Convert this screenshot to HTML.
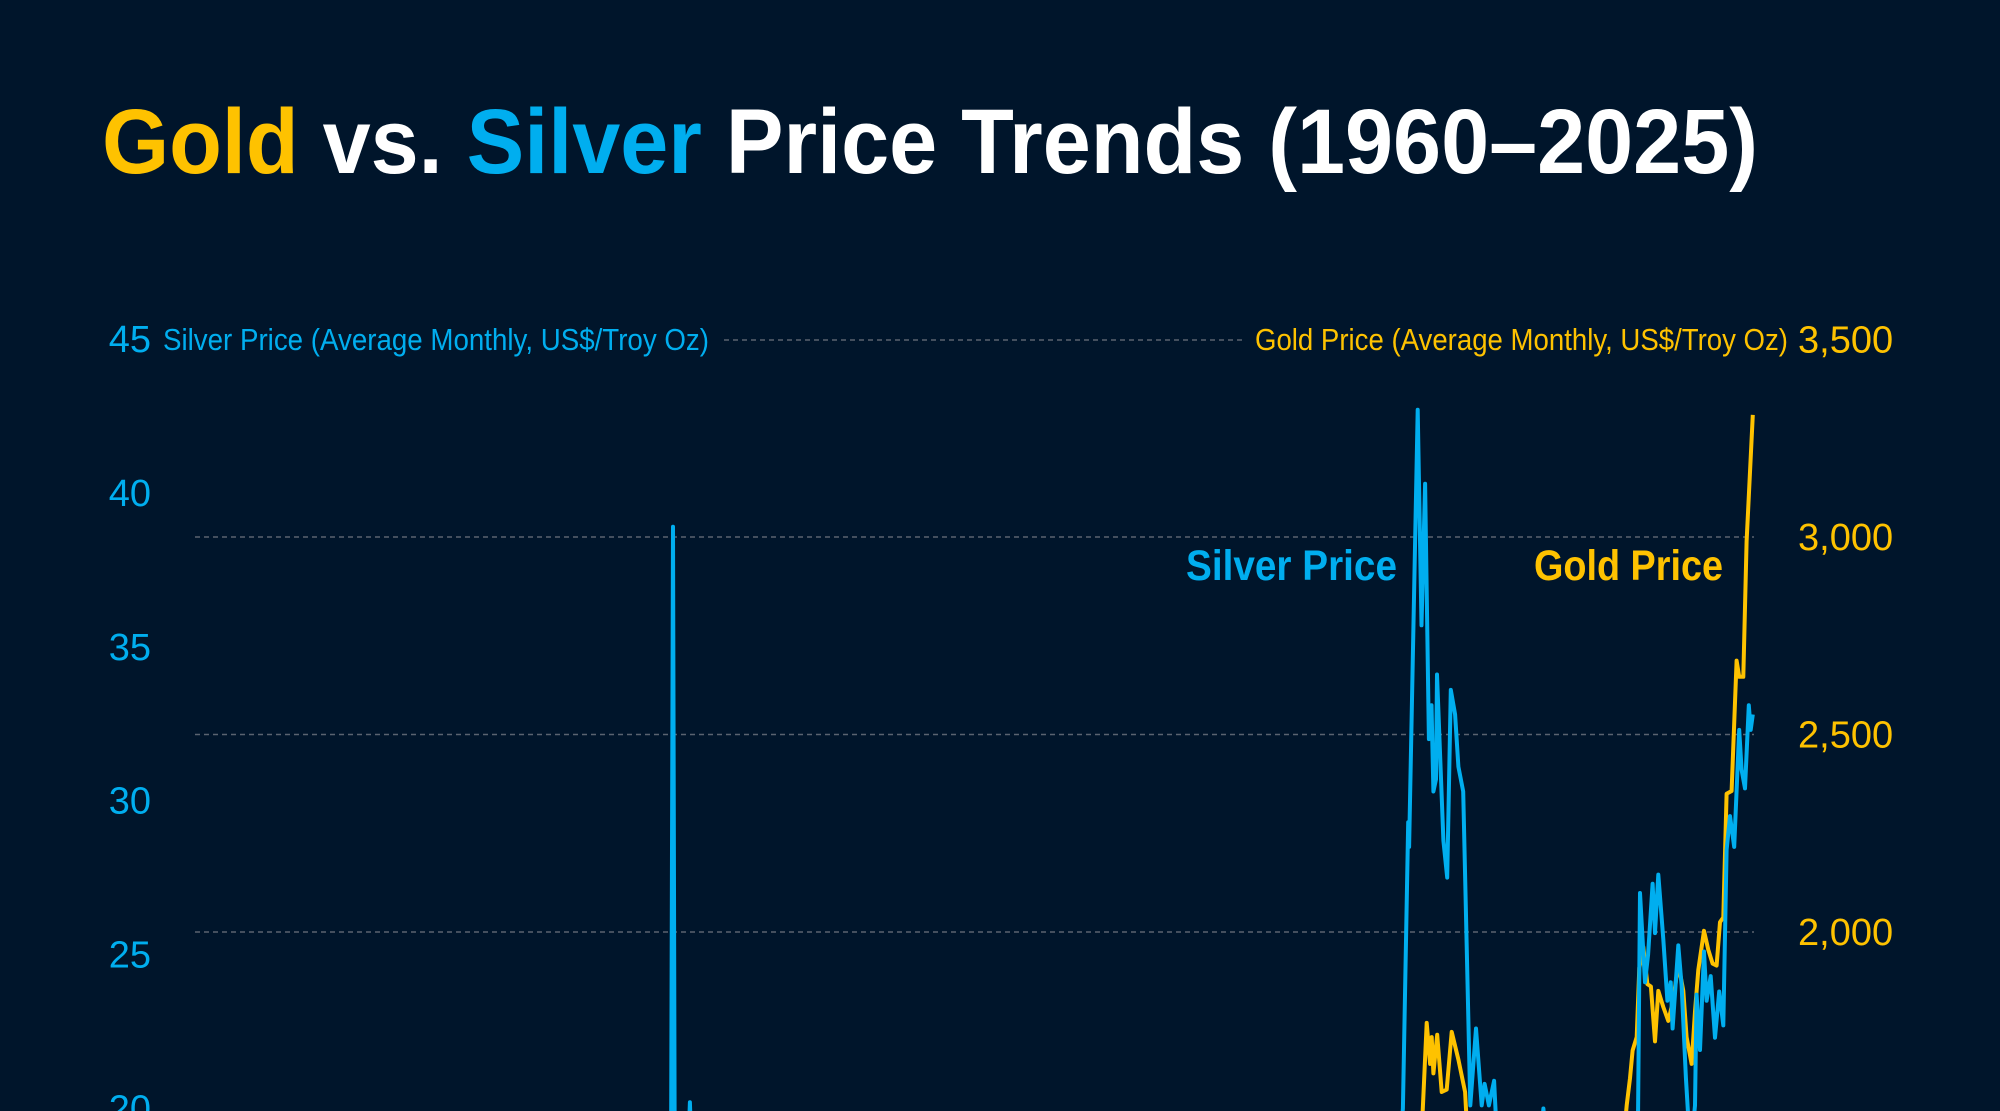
<!DOCTYPE html>
<html><head><meta charset="utf-8">
<style>
html,body{margin:0;padding:0;background:#00152b;width:2000px;height:1111px;overflow:hidden;}
svg{display:block;}
text{font-family:"Liberation Sans",sans-serif;}
</style></head>
<body>
<svg id="chart" width="2000" height="1111" viewBox="0 0 2000 1111" xmlns="http://www.w3.org/2000/svg" overflow="hidden">
<defs><clipPath id="frameClip"><rect x="0" y="0" width="2000" height="1111"/></clipPath></defs>
<rect x="0" y="0" width="2000" height="1111" fill="#00152b"/>
<text x="102" y="173" font-size="92" font-weight="bold" textLength="1656" lengthAdjust="spacingAndGlyphs"><tspan fill="#fec200">Gold</tspan><tspan fill="#ffffff"> vs. </tspan><tspan fill="#00aeef">Silver</tspan><tspan fill="#ffffff"> Price Trends (1960–2025)</tspan></text>
<text x="163" y="350" font-size="31" fill="#00aeef" textLength="546" lengthAdjust="spacingAndGlyphs">Silver Price (Average Monthly, US$/Troy Oz)</text>
<text x="1255" y="350" font-size="31" fill="#fec200" textLength="533" lengthAdjust="spacingAndGlyphs">Gold Price (Average Monthly, US$/Troy Oz)</text>
<line x1="724" y1="340" x2="1243" y2="340" stroke="#5a6370" stroke-width="1.5" stroke-dasharray="5,4"/>
<g id="grid"></g>
<g id="ticks" clip-path="url(#frameClip)"></g>
<g id="series" clip-path="url(#frameClip)"></g>
<text x="1186" y="580" font-size="43" font-weight="bold" fill="#00aeef" textLength="211" lengthAdjust="spacingAndGlyphs">Silver Price</text>
<text x="1534" y="580" font-size="43" font-weight="bold" fill="#fec200" textLength="189" lengthAdjust="spacingAndGlyphs">Gold Price</text>
</svg>
<script>
const silverTicks=[45,40,35,30,25,20];
const goldTicks=[3500,3000,2500,2000];
const goldTickLabels=["3,500","3,000","2,500","2,000"];
const silverYears=[1960,1963,1967.5,1968.4,1969,1971,1973,1974.2,1975,1977,1979,1979.6,1979.75,1979.92,1980.0,1980.08,1980.25,1980.5,1980.71,1980.85,1981,1982,1983,1985,1987.3,1990,1993,1998,2001,2004,2006.4,2007,2008.2,2008.8,2009.5,2010,2010.5,2010.67,2010.89,2010.93,2011.29,2011.45,2011.6,2011.76,2011.87,2011.95,2012.06,2012.1,2012.37,2012.53,2012.68,2012.86,2013.0,2013.2,2013.5,2013.74,2013.98,2014.1,2014.28,2014.5,2014.75,2015,2015.9,2016.57,2016.9,2018,2019,2019.7,2020.25,2020.5,2020.55,2020.63,2020.84,2020.97,2021.16,2021.26,2021.4,2021.61,2021.78,2021.92,2022.0,2022.24,2022.38,2022.56,2022.75,2022.94,2023.01,2023.15,2023.32,2023.43,2023.6,2023.78,2023.96,2024.13,2024.27,2024.41,2024.59,2024.66,2024.8,2024.9,2025.04,2025.2,2025.28,2025.37];
const silverValues=[0.91,1.28,1.6,2.4,1.8,1.55,2.6,5.8,4.4,4.6,6.0,9.5,16.0,19.0,38.9,16.5,14.0,15.5,20.2,17.0,14.0,8,12.5,6.1,8.5,5,4.0,5.5,4.4,6.5,13.5,13,19.0,10,14,17.5,18.3,20,29.3,28.5,42.7,35.7,40.3,32.0,33.1,30.3,30.7,34.1,28.7,27.5,33.6,32.8,31.1,30.3,20.1,22.6,20.1,20.8,20.1,20.9,17.0,16,14,20.0,17,16.5,15.5,18,14.5,18.5,20,27.0,24.1,25.0,27.3,25.7,27.6,25.5,23.5,24.1,22.6,25.3,24.0,21.0,18.5,20.1,23.7,21.9,25.1,23.5,24.3,22.3,23.8,22.7,28.4,29.5,28.5,29.8,32.3,31.0,30.4,33.1,32.3,32.8];
const goldYears=[1960,1968,1971,1973,1974.9,1976.6,1978,1979.5,1979.9,1980.05,1980.5,1981,1982.5,1983.2,1985,1987.9,1990,1993,1996,1999.6,2001,2003,2005,2006.4,2008.2,2008.8,2009.9,2010.9,2011.4,2011.5,2011.67,2011.81,2011.88,2011.95,2012.11,2012.3,2012.51,2012.72,2013.0,2013.28,2013.4,2013.6,2015.9,2016.5,2017,2018.6,2019.6,2019.95,2020.07,2020.21,2020.32,2020.49,2020.6,2020.77,2020.94,2021.09,2021.26,2021.4,2021.61,2021.82,2022.03,2022.24,2022.45,2022.59,2022.8,2022.94,2023.08,2023.32,2023.5,2023.68,2023.85,2023.99,2024.13,2024.27,2024.48,2024.69,2024.8,2024.97,2025.11,2025.37];
const goldValues=[35,39,41,97,183,110,175,280,455,675,620,560,340,490,300,480,400,350,390,258,270,350,430,660,970,760,1130,1390,1530,1547,1770,1666,1734,1642,1740,1595,1601,1747,1677,1595,1460,1300,1070,1340,1200,1200,1500,1480,1561,1630,1700,1734,1909,1962,1868,1862,1723,1851,1810,1775,1828,1920,1851,1734,1666,1799,1904,2003,1955,1920,1915,2025,2037,2350,2357,2687,2646,2646,2989,3309];

const NS="http://www.w3.org/2000/svg";
function xYear(y){return 197+(y-1960)*23.8;}
function ySilver(v){return 339+(45-v)*30.78;}
function yGold(v){return 537+(3000-v)*0.395;}

const grid=document.getElementById('grid');
const ticks=document.getElementById('ticks');
goldTicks.forEach((g,i)=>{
  const y=yGold(g);
  if(g<3500){
    const l=document.createElementNS(NS,'line');
    
    
    l.setAttribute('x1',195);l.setAttribute('x2',1754);
    l.setAttribute('y1',y);l.setAttribute('y2',y);
    l.setAttribute('stroke','#5a6370');l.setAttribute('stroke-width','1.5');
    l.setAttribute('stroke-dasharray','5,4');
    grid.appendChild(l);
  }
  const t=document.createElementNS(NS,'text');
  
  
  t.setAttribute('x',1798);t.setAttribute('y',y+13);
  t.setAttribute('font-size','38');t.setAttribute('fill','#fec200');
  t.textContent=goldTickLabels[i];
  ticks.appendChild(t);
});
silverTicks.forEach(s=>{
  const t=document.createElementNS(NS,'text');
  
  
  t.setAttribute('x',151);t.setAttribute('y',ySilver(s)+13);
  t.setAttribute('font-size','38');t.setAttribute('fill','#00aeef');
  t.setAttribute('text-anchor','end');
  t.textContent=String(s);
  ticks.appendChild(t);
});
const series=document.getElementById('series');
function drawLine(xs,vs,yf,color,name){
  const p=document.createElementNS(NS,'polyline');
  
  
  p.setAttribute('points',xs.map((x,i)=>xYear(x).toFixed(1)+','+yf(vs[i]).toFixed(1)).join(' '));
  p.setAttribute('fill','none');p.setAttribute('stroke',color);
  p.setAttribute('stroke-width','4');p.setAttribute('stroke-linejoin','round');
  series.appendChild(p);
}
drawLine(goldYears,goldValues,yGold,'#fec200','gold-price-line');
drawLine(silverYears,silverValues,ySilver,'#00aeef','silver-price-line');
</script>
</body></html>
